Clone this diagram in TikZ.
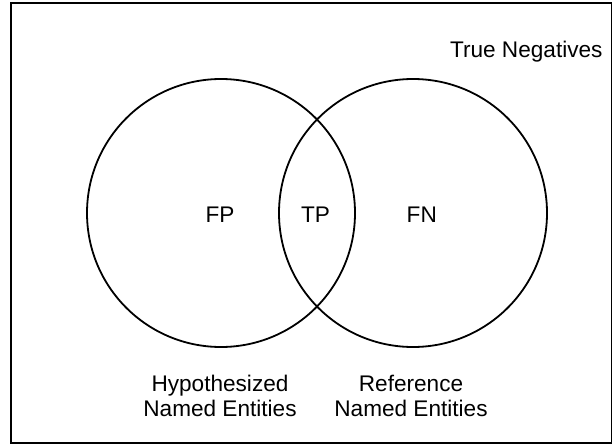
\documentclass[tikz,border=0pt]{standalone}
\usepackage{fontspec}
\setmainfont{Liberation Sans}
\begin{document}
\begin{tikzpicture}[x=1pt,y=-1pt,
  lbl/.style={font=\fontsize{22.6}{25}\selectfont, inner sep=0pt, align=center},
  venn/.style={draw=black, line width=1.8pt, circle, inner sep=0pt, minimum size=268pt},
  frame/.style={draw=black, line width=1.8pt, inner sep=0pt, anchor=north west}]
\useasboundingbox (0,0) rectangle (612,444);
\node[frame, minimum width=601pt, minimum height=440pt] (box) at (10,2) {};
\node[venn] (hyp) at (221,213) {};
\node[venn] (ref) at (413,213) {};
\node[lbl, anchor=base] (fp) at (220,222) {FP};
\node[lbl, anchor=base] (tp) at (315.6,222) {TP};
\node[lbl, anchor=base] (fn) at (421.8,222) {FN};
\node[lbl, anchor=base] (tn) at (526.3,57.5) {True Negatives};
\node[lbl, anchor=north] (hypl) at (220,375.2) {Hypothesized\\Named Entities};
\node[lbl, anchor=north] (refl) at (411,375.2) {Reference\\Named Entities};
\end{tikzpicture}
\end{document}
